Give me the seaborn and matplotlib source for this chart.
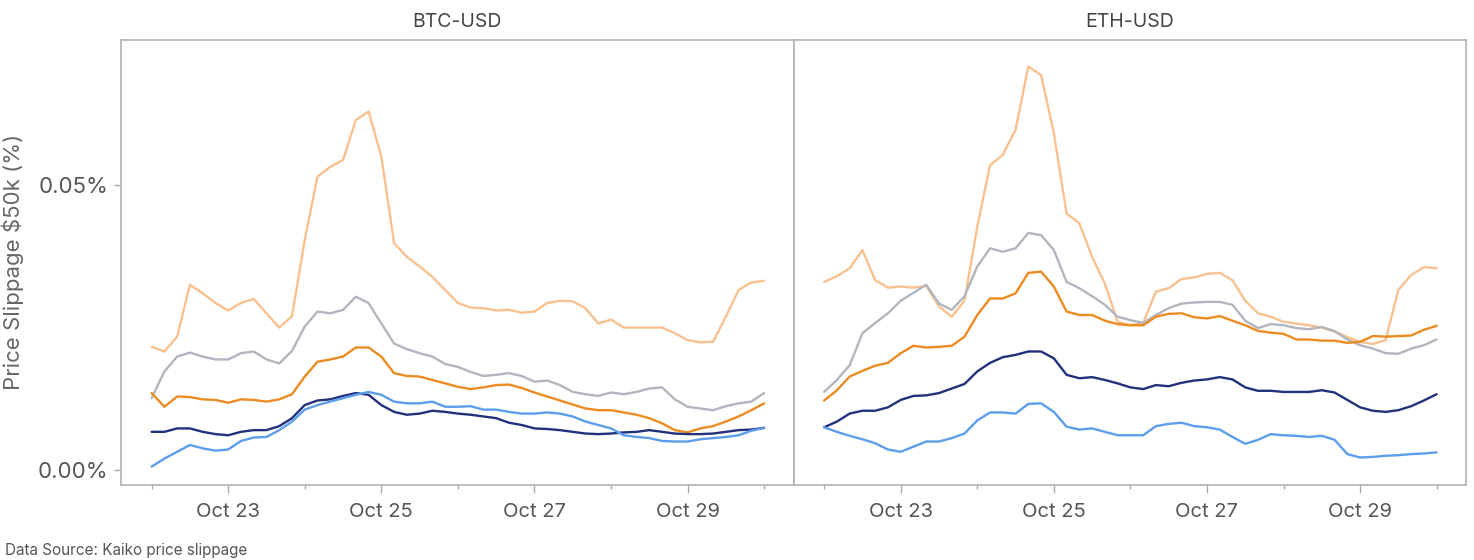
import pandas as pd
import numpy as np
import matplotlib
matplotlib.use('Agg')
import matplotlib.pyplot as plt
import matplotlib.dates as mdates
from matplotlib.ticker import FuncFormatter
import seaborn as sns

# 4-hourly samples, Oct 22 00:00 -> Oct 30 00:00
times = pd.date_range('2022-10-22', periods=49, freq='4h')

pairs = ['BTC-USD', 'ETH-USD']
exchanges = ['Exchange A', 'Exchange B', 'Exchange C', 'Exchange D', 'Exchange E']
colors = ['#F8C18F', '#B1B6BE', '#EC8B21', '#23307B', '#5C9EEB']

# BTC-USD slippage (%)
btc_a = [0.0216, 0.0208, 0.0234, 0.0325, 0.0310, 0.0293, 0.0280, 0.0293, 0.0300, 0.0275,
         0.0250, 0.0270, 0.0404, 0.0515, 0.0532, 0.0544, 0.0614, 0.0629, 0.0550, 0.0398,
         0.0374, 0.0357, 0.0339, 0.0316, 0.0293, 0.0285, 0.0284, 0.0280, 0.0281, 0.0276,
         0.0278, 0.0293, 0.0297, 0.0296, 0.0284, 0.0257, 0.0264, 0.0250, 0.0250, 0.0250,
         0.0250, 0.0240, 0.0228, 0.0224, 0.0225, 0.0269, 0.0316, 0.0329, 0.0332]
btc_b = [0.0126, 0.0173, 0.0199, 0.0206, 0.0199, 0.0194, 0.0194, 0.0205, 0.0208, 0.0194,
         0.0187, 0.0209, 0.0252, 0.0278, 0.0275, 0.0281, 0.0304, 0.0293, 0.0257, 0.0222,
         0.0212, 0.0205, 0.0199, 0.0186, 0.0181, 0.0172, 0.0165, 0.0167, 0.0170, 0.0165,
         0.0155, 0.0157, 0.0149, 0.0137, 0.0133, 0.0130, 0.0136, 0.0133, 0.0137, 0.0143,
         0.0145, 0.0124, 0.0111, 0.0108, 0.0105, 0.0112, 0.0117, 0.0120, 0.0135]
btc_c = [0.0135, 0.0111, 0.0129, 0.0128, 0.0124, 0.0123, 0.0118, 0.0124, 0.0123, 0.0120,
         0.0124, 0.0133, 0.0164, 0.0190, 0.0194, 0.0199, 0.0215, 0.0215, 0.0199, 0.0170,
         0.0165, 0.0164, 0.0158, 0.0152, 0.0146, 0.0142, 0.0145, 0.0149, 0.0150, 0.0144,
         0.0136, 0.0129, 0.0122, 0.0115, 0.0108, 0.0105, 0.0105, 0.0101, 0.0097, 0.0091,
         0.0082, 0.0070, 0.0066, 0.0073, 0.0077, 0.0085, 0.0094, 0.0105, 0.0117]
btc_d = [0.0067, 0.0067, 0.0073, 0.0073, 0.0067, 0.0063, 0.0061, 0.0067, 0.0070, 0.0070,
         0.0077, 0.0091, 0.0114, 0.0122, 0.0124, 0.0130, 0.0135, 0.0132, 0.0114, 0.0102,
         0.0097, 0.0099, 0.0104, 0.0102, 0.0099, 0.0097, 0.0094, 0.0091, 0.0083, 0.0079,
         0.0073, 0.0072, 0.0070, 0.0067, 0.0064, 0.0063, 0.0064, 0.0066, 0.0067, 0.0070,
         0.0067, 0.0064, 0.0063, 0.0063, 0.0064, 0.0067, 0.0070, 0.0071, 0.0074]
btc_e = [0.0006, 0.0020, 0.0032, 0.0044, 0.0038, 0.0034, 0.0036, 0.0051, 0.0057, 0.0058,
         0.0070, 0.0085, 0.0106, 0.0114, 0.0120, 0.0126, 0.0132, 0.0137, 0.0132, 0.0120,
         0.0117, 0.0117, 0.0120, 0.0111, 0.0111, 0.0112, 0.0106, 0.0106, 0.0102, 0.0099,
         0.0099, 0.0101, 0.0099, 0.0094, 0.0085, 0.0079, 0.0073, 0.0061, 0.0058, 0.0056,
         0.0051, 0.0050, 0.0050, 0.0054, 0.0056, 0.0058, 0.0061, 0.0069, 0.0074]

# ETH-USD slippage (%)
eth_a = [0.0330, 0.0340, 0.0354, 0.0386, 0.0333, 0.0320, 0.0322, 0.0320, 0.0323, 0.0287,
         0.0269, 0.0297, 0.0427, 0.0535, 0.0553, 0.0597, 0.0708, 0.0693, 0.0591, 0.0450,
         0.0433, 0.0374, 0.0327, 0.0260, 0.0254, 0.0258, 0.0313, 0.0319, 0.0335, 0.0338,
         0.0344, 0.0346, 0.0333, 0.0297, 0.0275, 0.0269, 0.0260, 0.0257, 0.0254, 0.0250,
         0.0243, 0.0233, 0.0225, 0.0221, 0.0228, 0.0316, 0.0342, 0.0356, 0.0354]
eth_b = [0.0137, 0.0158, 0.0184, 0.0240, 0.0258, 0.0275, 0.0297, 0.0311, 0.0325, 0.0292,
         0.0281, 0.0305, 0.0357, 0.0389, 0.0383, 0.0389, 0.0416, 0.0412, 0.0386, 0.0330,
         0.0319, 0.0305, 0.0290, 0.0269, 0.0263, 0.0258, 0.0272, 0.0284, 0.0292, 0.0294,
         0.0295, 0.0295, 0.0290, 0.0262, 0.0249, 0.0256, 0.0254, 0.0249, 0.0247, 0.0251,
         0.0244, 0.0229, 0.0219, 0.0213, 0.0205, 0.0204, 0.0213, 0.0219, 0.0229]
eth_c = [0.0122, 0.0140, 0.0164, 0.0174, 0.0183, 0.0188, 0.0205, 0.0218, 0.0215, 0.0216,
         0.0218, 0.0234, 0.0272, 0.0301, 0.0301, 0.0310, 0.0346, 0.0348, 0.0322, 0.0278,
         0.0272, 0.0272, 0.0262, 0.0256, 0.0254, 0.0254, 0.0269, 0.0274, 0.0275, 0.0268,
         0.0266, 0.0270, 0.0262, 0.0254, 0.0244, 0.0241, 0.0239, 0.0229, 0.0229, 0.0227,
         0.0227, 0.0223, 0.0225, 0.0235, 0.0234, 0.0235, 0.0236, 0.0246, 0.0253]
eth_d = [0.0075, 0.0085, 0.0099, 0.0104, 0.0104, 0.0110, 0.0123, 0.0130, 0.0131, 0.0135,
         0.0143, 0.0151, 0.0173, 0.0188, 0.0198, 0.0202, 0.0208, 0.0208, 0.0196, 0.0167,
         0.0161, 0.0163, 0.0158, 0.0152, 0.0145, 0.0142, 0.0149, 0.0147, 0.0153, 0.0157,
         0.0159, 0.0163, 0.0159, 0.0145, 0.0139, 0.0139, 0.0137, 0.0137, 0.0137, 0.0140,
         0.0136, 0.0123, 0.0110, 0.0104, 0.0102, 0.0105, 0.0112, 0.0122, 0.0133]
eth_e = [0.0075, 0.0067, 0.0060, 0.0054, 0.0047, 0.0036, 0.0032, 0.0041, 0.0050, 0.0050,
         0.0056, 0.0064, 0.0087, 0.0101, 0.0101, 0.0099, 0.0116, 0.0117, 0.0102, 0.0076,
         0.0071, 0.0073, 0.0067, 0.0061, 0.0061, 0.0061, 0.0077, 0.0081, 0.0083, 0.0077,
         0.0075, 0.0071, 0.0058, 0.0046, 0.0053, 0.0063, 0.0061, 0.0060, 0.0058, 0.0060,
         0.0053, 0.0028, 0.0022, 0.0023, 0.0025, 0.0026, 0.0028, 0.0029, 0.0031]

series = {
    'BTC-USD': [btc_a, btc_b, btc_c, btc_d, btc_e],
    'ETH-USD': [eth_a, eth_b, eth_c, eth_d, eth_e],
}

# long format table for seaborn
frames = []
for pair in pairs:
    for name, vals in zip(exchanges, series[pair]):
        frames.append(pd.DataFrame({'time': times, 'slippage': vals,
                                    'exchange': name, 'pair': pair}))
df = pd.concat(frames, ignore_index=True)

sns.set_theme(style='white')
plt.rcParams['font.family'] = ['Inter', 'DejaVu Sans']

g = sns.relplot(data=df, x='time', y='slippage', hue='exchange', col='pair',
                kind='line', palette=colors, hue_order=exchanges, col_order=pairs,
                legend=False, linewidth=1.7, height=5, aspect=1.3)
g.figure.set_size_inches(14.74, 5.6)
g.figure.subplots_adjust(left=0.0821, right=0.9946, bottom=0.1339, top=0.9291, wspace=0)

g.set_titles('{col_name}', size=14, color='#444444', pad=9)
g.set(xlim=(pd.Timestamp('2022-10-21 14:24'), pd.Timestamp('2022-10-30 09:13')),
      ylim=(-0.00263, 0.0755))
g.set_axis_labels('', '')

for i, ax in enumerate(g.axes.flat):
    for s in ax.spines.values():
        s.set_visible(True)
        s.set_color('#b3b3b3')
        s.set_linewidth(1.2)
    ax.xaxis.set_major_locator(mdates.DayLocator(bymonthday=[23, 25, 27, 29]))
    ax.xaxis.set_minor_locator(mdates.DayLocator(bymonthday=[22, 24, 26, 28, 30]))
    ax.xaxis.set_major_formatter(mdates.DateFormatter('%b %d'))
    ax.tick_params(axis='x', which='major', length=6, width=1, color='#aaaaaa',
                   labelcolor='#555555', labelsize=14.5, pad=7, bottom=True)
    ax.tick_params(axis='x', which='minor', length=3, width=1, color='#aaaaaa', bottom=True)
    ax.set_yticks([0, 0.05])
    ax.yaxis.set_major_formatter(FuncFormatter(lambda v, p: f'{v:.2f}%'))
    if i == 0:
        ax.tick_params(axis='y', length=5, width=1, color='#aaaaaa',
                       labelcolor='#555555', labelsize=16, pad=4, left=True)
        ax.set_ylabel('Price Slippage $50k (%)', fontsize=16, color='#666666')
        ax.yaxis.set_label_coords(-0.145, 0.5)
    else:
        ax.tick_params(axis='y', length=0)

g.figure.text(5 / 1474, 1 - 551 / 560, 'Data Source: Kaiko price slippage',
              fontsize=11, color='#555555', va='center', ha='left')

g.figure.savefig('out.png', dpi=100)
